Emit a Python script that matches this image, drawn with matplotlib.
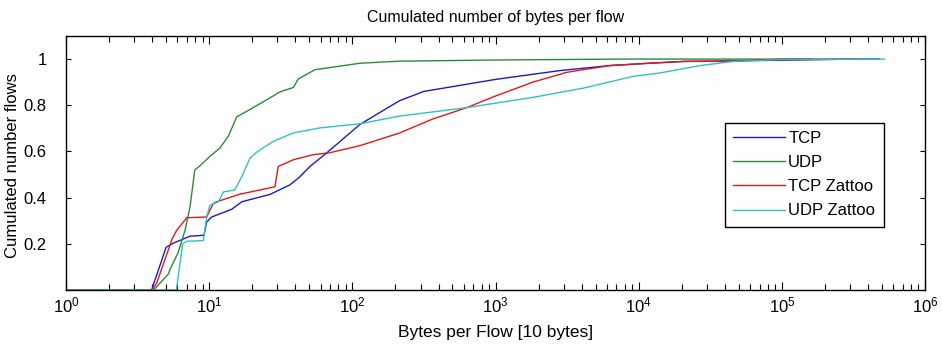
import math
import matplotlib
matplotlib.use("Agg")
import matplotlib.pyplot as plt
from matplotlib import font_manager
from matplotlib.ticker import FixedLocator, LogLocator, FuncFormatter, NullFormatter

# values (x in units of 10 bytes)
tcp_x = [1, 3.96, 4.79, 5.0, 5.62, 7.35, 9.2, 9.6, 10.4, 14.4, 16.9, 26.6, 36.6, 43, 50.6, 66,
         113, 214, 316, 1000, 2800, 6300, 12600, 20900, 1e5, 3.2e5, 4.8e5]
tcp_y = [0, 0, 0.15, 0.185, 0.203, 0.233, 0.237, 0.294, 0.316, 0.35, 0.382, 0.414, 0.455, 0.49, 0.535, 0.593,
         0.717, 0.82, 0.86, 0.912, 0.95, 0.972, 0.983, 0.99, 0.995, 1.0, 1.0]

udp_x = [1, 4.1, 5.2, 5.3, 6.08, 6.78, 7.35, 7.94, 8.63, 10.1, 11.9, 13.6, 15.6, 19.3, 25.1, 31.2, 38.7,
         41.9, 54.8, 113, 214, 1000, 7400, 1.6e5]
udp_y = [0, 0, 0.07, 0.086, 0.163, 0.258, 0.36, 0.52, 0.538, 0.578, 0.615, 0.666, 0.75, 0.782, 0.823, 0.858, 0.877,
         0.914, 0.954, 0.982, 0.991, 0.996, 1.0, 1.0]

tcpz_x = [1, 4.0, 4.3, 5.3, 5.5, 5.93, 6.97, 9.6, 10.7, 11.3, 13.2, 16.4, 28.8, 30.4, 38.7, 53.3, 69, 113,
          214, 363, 631, 1000, 1820, 3160, 6300, 12600, 20900, 45700, 63000, 1e5, 3.2e5]
tcpz_y = [0, 0, 0.03, 0.19, 0.22, 0.258, 0.313, 0.316, 0.375, 0.382, 0.396, 0.415, 0.447, 0.535, 0.564, 0.586, 0.594, 0.625,
          0.68, 0.74, 0.79, 0.84, 0.90, 0.943, 0.972, 0.983, 0.99, 0.99, 0.995, 1.0, 1.0]

udpz_x = [1, 5.9, 6.53, 6.97, 9.1, 9.6, 10.1, 11.6, 12.6, 15.1, 16.9, 19.3, 21.4, 28.1, 38.7, 59.4, 113,
          214, 631, 1820, 4170, 9120, 14100, 26900, 45700, 1e5, 5.2e5]
udpz_y = [0, 0, 0.2, 0.211, 0.214, 0.316, 0.367, 0.382, 0.425, 0.433, 0.491, 0.571, 0.596, 0.644, 0.68, 0.702, 0.72,
          0.753, 0.79, 0.834, 0.875, 0.925, 0.94, 0.972, 0.99, 0.998, 1.0]

series = [("TCP", tcp_x, tcp_y, "#1a1ac8"),
          ("UDP", udp_x, udp_y, "#2a8a3a"),
          ("TCP Zattoo", tcpz_x, tcpz_y, "#e01818"),
          ("UDP Zattoo", udpz_x, udpz_y, "#30c0c0")]

y_ticks = [0.2, 0.4, 0.6, 0.8, 1.0]
y_labels = ["0.2", "0.4", "0.6", "0.8", "1"]

names = {f.name for f in font_manager.fontManager.ttflist}
text_font = "Liberation Sans"
tick_font = "Liberation Sans Narrow" if "Liberation Sans Narrow" in names else "Liberation Sans"

plt.rcParams["font.family"] = [text_font, "DejaVu Sans"]
plt.rcParams["mathtext.fontset"] = "custom"
plt.rcParams["mathtext.rm"] = tick_font
plt.rcParams["mathtext.it"] = tick_font
plt.rcParams["mathtext.bf"] = tick_font

fig = plt.figure(figsize=(9.42, 3.47), dpi=100)
ax = fig.add_axes([66 / 942, 1 - 290 / 347, 859 / 942, 254 / 347])

for name, xs, ys, col in series:
    ax.semilogx(xs, ys, color=col, lw=1.0, label=name)

ax.set_xlim(1, 1e6)
ax.set_ylim(0, 1.1)

ax.xaxis.set_major_locator(LogLocator(base=10, numticks=10))
ax.xaxis.set_minor_locator(LogLocator(base=10, subs=range(2, 10), numticks=100))
ax.xaxis.set_major_formatter(FuncFormatter(lambda v, p: r"$\mathrm{10^{%d}}$" % round(math.log10(v))))
ax.xaxis.set_minor_formatter(NullFormatter())
ax.yaxis.set_major_locator(FixedLocator(y_ticks))
ax.set_yticklabels(y_labels)

ax.tick_params(which="both", direction="in", top=True, right=True, colors="black")
ax.tick_params(axis="x", which="major", length=6, width=0.8, pad=4)
ax.tick_params(axis="x", which="minor", length=4, width=0.8)
ax.tick_params(axis="y", which="major", length=3.6, width=0.8, pad=14)
for lab in ax.get_xticklabels() + ax.get_yticklabels():
    lab.set_fontfamily(tick_font)
    lab.set_fontsize(12)
for sp in ax.spines.values():
    sp.set_linewidth(1.0)

ax.set_title("Cumulated number of bytes per flow", fontsize=11.5, y=1.056, pad=0)
ax.set_xlabel("Bytes per Flow [10 bytes]", fontsize=12.5)
ax.xaxis.set_label_coords(0.5, -0.138)
ax.set_ylabel("Cumulated number flows", fontsize=12)
ax.yaxis.set_label_coords(-0.054, 0.49)

leg = ax.legend(loc="upper left", bbox_to_anchor=(0.767, 0.659), borderaxespad=0,
                fontsize=12, handlelength=3.1, handletextpad=0.2, labelspacing=0.55,
                borderpad=0.5, fancybox=False, framealpha=1, edgecolor="black")
leg.get_frame().set_linewidth(1.0)

fig.savefig("out.png", dpi=100, facecolor="white")
